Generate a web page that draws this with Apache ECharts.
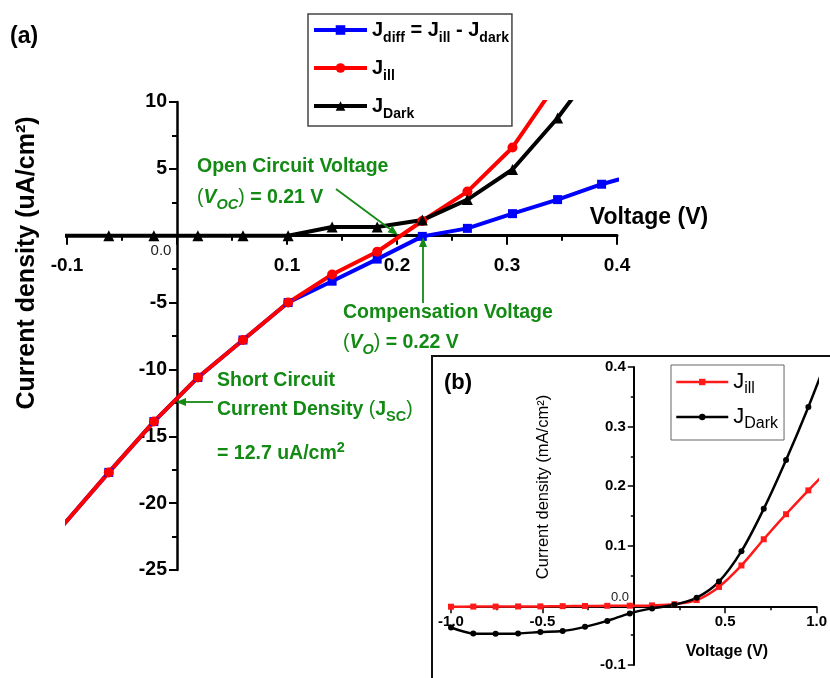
<!DOCTYPE html>
<html>
<head>
<meta charset="utf-8">
<script src="https://cdn.jsdelivr.net/npm/echarts@6/dist/echarts.min.js"></script>
<style>html,body{margin:0;padding:0;background:#fff}#c{width:830px;height:678px}</style>
</head>
<body>
<div id="c"></div>
<script>
// ---- main chart (a) data ----
const vMain  = [-0.103, -0.062, -0.021, 0.019, 0.060, 0.101, 0.141, 0.182, 0.223, 0.264, 0.305, 0.346, 0.386, 0.427];
const jDiff  = [-21.6, -17.7, -13.9, -10.6, -7.8, -5.0, -3.4, -1.75, -0.05, 0.55, 1.65, 2.7, 3.85, 4.8];
const jIll   = [-21.6, -17.7, -13.9, -10.6, -7.8, -5.0, -2.9, -1.2, 1.1, 3.3, 6.6, 11.5, 17.0];
const jDark  = [0, 0, 0, 0, 0, 0, 0.65, 0.65, 1.17, 2.7, 4.95, 8.8, 13.2];
const xTicksMain = [-0.1, 0.0, 0.1, 0.2, 0.3, 0.4];
const yTicksMain = [-25, -20, -15, -10, -5, 0, 5, 10];

// ---- inset chart (b) data ----
const vInset    = [-1.0, -0.878, -0.756, -0.633, -0.511, -0.389, -0.267, -0.145, -0.022, 0.100, 0.222, 0.344, 0.466, 0.589, 0.711, 0.833, 0.955, 1.077];
const jIllB     = [-0.0022, -0.002, -0.002, -0.0018, -0.0017, -0.0013, -0.001, -0.0007, -0.0005, 0.0, 0.002, 0.009, 0.031, 0.067, 0.111, 0.153, 0.193, 0.232];
const jDarkB    = [-0.037, -0.047, -0.0475, -0.047, -0.0447, -0.043, -0.036, -0.026, -0.0134, -0.005, 0.001, 0.013, 0.040, 0.091, 0.162, 0.244, 0.333, 0.43];
const xTicksInset = [-1.0, -0.5, 0.0, 0.5, 1.0];
const yTicksInset = [-0.1, 0.0, 0.1, 0.2, 0.3, 0.4];

const FF = 'Arial, "Liberation Sans", Helvetica, sans-serif';
const GREEN = '#138a13';

function pairs(xs, ys) {
  const out = [];
  for (let i = 0; i < ys.length; i++) out.push([xs[i], ys[i]]);
  return out;
}

const chart = echarts.init(document.getElementById('c'), null, {renderer: 'canvas'});

function arrow(x1, y1, x2, y2) {
  const ang = Math.atan2(y2 - y1, x2 - x1);
  const L = 10, W = 4;
  const bx = x2 - L * Math.cos(ang), by = y2 - L * Math.sin(ang);
  const px = -Math.sin(ang) * W, py = Math.cos(ang) * W;
  return [
    {type: 'line', z: 50, shape: {x1: x1, y1: y1, x2: bx, y2: by}, style: {stroke: GREEN, lineWidth: 1.8}},
    {type: 'polygon', z: 50, shape: {points: [[x2, y2], [bx + px, by + py], [bx - px, by - py]]}, style: {fill: GREEN}}
  ];
}

const GF = 19.5, GS = 14.5;
const greenRich = {
  b: {fontSize: GF, fontWeight: 'bold', fontFamily: FF, fill: GREEN, lineHeight: 28, verticalAlign: 'middle'},
  p: {fontSize: GF, fontWeight: 'normal', fontFamily: FF, fill: GREEN, lineHeight: 28, verticalAlign: 'middle'},
  i: {fontSize: GF, fontWeight: 'bold', fontStyle: 'italic', fontFamily: FF, fill: GREEN, lineHeight: 28, verticalAlign: 'middle'},
  si: {fontSize: GS, fontWeight: 'bold', fontStyle: 'italic', fontFamily: FF, fill: GREEN, lineHeight: 15, verticalAlign: 'bottom'},
  s: {fontSize: GS, fontWeight: 'bold', fontFamily: FF, fill: GREEN, lineHeight: 15, verticalAlign: 'bottom'},
  sup: {fontSize: GS, fontWeight: 'bold', fontFamily: FF, fill: GREEN, lineHeight: 13, verticalAlign: 'top'}
};

function gText(x, y, text) {
  return {
    type: 'text', z: 60, x: x, y: y,
    style: {text: text, rich: greenRich, fill: GREEN, align: 'left', verticalAlign: 'middle', font: 'bold ' + GF + 'px ' + FF}
  };
}

const graphics = [
  {type: 'rect', z: -1, shape: {x: 432, y: 356, width: 400, height: 330}, style: {fill: '#fff', stroke: '#111', lineWidth: 2}},
  {type: 'text', z: 60, x: 10, y: 37, style: {text: '(a)', font: 'bold 23px ' + FF, fill: '#000', verticalAlign: 'middle'}},
  {type: 'text', z: 60, x: 444, y: 383, style: {text: '(b)', font: 'bold 22px ' + FF, fill: '#000', verticalAlign: 'middle'}},
  {type: 'text', z: 60, x: 27, y: 263, rotation: Math.PI / 2,
   style: {text: 'Current density (uA/cm²)', font: 'bold 25px ' + FF, fill: '#000', align: 'center', verticalAlign: 'middle'}},
  {type: 'text', z: 60, x: 649, y: 218,
   style: {text: 'Voltage (V)', font: 'bold 23px ' + FF, fill: '#000', align: 'center', verticalAlign: 'middle'}},
  {type: 'text', z: 60, x: 161, y: 251,
   style: {text: '0.0', font: '15px ' + FF, fill: '#222', align: 'center', verticalAlign: 'middle'}},
  {type: 'text', z: 60, x: 543, y: 487, rotation: Math.PI / 2,
   style: {text: 'Current density (mA/cm²)', font: '16.5px ' + FF, fill: '#000', align: 'center', verticalAlign: 'middle'}},
  {type: 'text', z: 60, x: 727, y: 652,
   style: {text: 'Voltage (V)', font: 'bold 16px ' + FF, fill: '#000', align: 'center', verticalAlign: 'middle'}},
  {type: 'text', z: 60, x: 620, y: 597,
   style: {text: '0.0', font: '13px ' + FF, fill: '#222', align: 'center', verticalAlign: 'middle'}},
  gText(197, 167, '{b|Open Circuit Voltage}'),
  gText(197, 198, '{p|(}{i|V}{si|OC}{p|)}{b| = 0.21 V}'),
  gText(343, 313, '{b|Compensation Voltage}'),
  gText(343, 343, '{p|(}{i|V}{si|O}{p|)}{b| = 0.22 V}'),
  gText(217, 381, '{b|Short Circuit}'),
  gText(217, 410, '{b|Current Density }{p|(}{b|J}{s|SC}{p|)}'),
  gText(217, 454, '{b|= 12.7 uA/cm}{sup|2}')
].concat(arrow(336, 189, 398, 235), arrow(423, 303, 423, 237), arrow(213, 402, 176, 402));

function hideZero(dec) {
  return function (v) { return Math.abs(v) < 1e-9 ? '' : v.toFixed(dec); };
}

function mkAxis(o) {
  return {
    type: 'value', gridIndex: o.grid, min: o.min, max: o.max, interval: o.interval,
    splitLine: {show: false},
    axisLine: {onZero: false, lineStyle: {color: '#000', width: o.lw}},
    axisTick: {length: o.tl, lineStyle: {color: '#000', width: o.tw}},
    minorTick: {show: true, splitNumber: 2, length: o.ml, lineStyle: {color: '#000', width: o.tw}},
    axisLabel: {formatter: hideZero(o.dec), fontSize: o.fs, fontWeight: 'bold', fontFamily: FF, color: '#000', margin: o.margin}
  };
}

const legendRichMain = {
  J: {fontSize: 20, fontWeight: 'bold', fontFamily: FF, color: '#000', lineHeight: 30, verticalAlign: 'middle'},
  s: {fontSize: 14, fontWeight: 'bold', fontFamily: FF, color: '#000', lineHeight: 12, verticalAlign: 'bottom'}
};
const legendRichInset = {
  J: {fontSize: 22, fontWeight: 'normal', fontFamily: FF, color: '#000', lineHeight: 30, verticalAlign: 'middle'},
  s: {fontSize: 16, fontWeight: 'normal', fontFamily: FF, color: '#000', lineHeight: 14, verticalAlign: 'bottom'}
};
const legendNames = {
  'Jdiff': '{J|J}{s|diff}{J| = J}{s|ill}{J| - J}{s|dark}',
  'Jill': '{J|J}{s|ill}',
  'Jdark': '{J|J}{s|Dark}',
  'Jill_b': '{J|J}{s|ill}',
  'Jdark_b': '{J|J}{s|Dark}'
};

const option = {
  animation: false,
  backgroundColor: '#fff',
  grid: [
    {left: 67, right: 213, top: 102, bottom: 108},
    {left: 451, right: 13, top: 367, bottom: 13}
  ],
  xAxis: [
    mkAxis({grid: 0, min: xTicksMain[0], max: xTicksMain[xTicksMain.length - 1], interval: 0.1, lw: 3, tl: 9, ml: 5, tw: 2, dec: 1, fs: 19, margin: 21}),
    mkAxis({grid: 1, min: xTicksInset[0], max: xTicksInset[xTicksInset.length - 1], interval: 0.5, lw: 2, tl: 6, ml: 3, tw: 1.5, dec: 1, fs: 15, margin: 7})
  ],
  yAxis: [
    mkAxis({grid: 0, min: yTicksMain[0], max: yTicksMain[yTicksMain.length - 1], interval: 5, lw: 2.5, tl: 8, ml: 5, tw: 2, dec: 0, fs: 19.5, margin: 10}),
    mkAxis({grid: 1, min: yTicksInset[0], max: yTicksInset[yTicksInset.length - 1], interval: 0.1, lw: 2, tl: 6, ml: 3, tw: 1.5, dec: 1, fs: 15, margin: 8})
  ],
  legend: [
    {
      data: ['Jdiff', 'Jill', 'Jdark'], orient: 'vertical', left: 308, top: 14,
      itemWidth: 53, itemHeight: 12, itemGap: 13, padding: [6, 3, 5, 4],
      borderColor: '#444', borderWidth: 1.5, backgroundColor: '#fff',
      lineStyle: {width: 4},
      formatter: function (n) { return legendNames[n]; },
      textStyle: {rich: legendRichMain}
    },
    {
      data: ['Jill_b', 'Jdark_b'], orient: 'vertical', left: 671, top: 365,
      itemWidth: 52, itemHeight: 8, itemGap: 9, padding: [6, 6, 8, 4],
      borderColor: '#666', borderWidth: 1, backgroundColor: '#fff',
      lineStyle: {width: 2.5},
      formatter: function (n) { return legendNames[n]; },
      textStyle: {rich: legendRichInset}
    }
  ],
  series: [
    {name: 'Jdiff', type: 'line', xAxisIndex: 0, yAxisIndex: 0, data: pairs(vMain, jDiff), clip: true,
     symbol: 'rect', symbolSize: 9, lineStyle: {width: 4, color: '#0000ff'}, itemStyle: {color: '#0000ff'}},
    {name: 'Jill', type: 'line', xAxisIndex: 0, yAxisIndex: 0, data: pairs(vMain, jIll), clip: true,
     symbol: 'circle', symbolSize: 10, lineStyle: {width: 4, color: '#ff0000'}, itemStyle: {color: '#ff0000'}},
    {name: 'Jdark', type: 'line', xAxisIndex: 0, yAxisIndex: 0, data: pairs(vMain, jDark), clip: true,
     symbol: 'triangle', symbolSize: 11, lineStyle: {width: 4, color: '#000'}, itemStyle: {color: '#000'}},
    {name: 'Jill_b', type: 'line', xAxisIndex: 1, yAxisIndex: 1, data: pairs(vInset, jIllB), clip: true, smooth: 0.3,
     symbol: 'rect', symbolSize: 6, lineStyle: {width: 2.5, color: '#ff1a1a'}, itemStyle: {color: '#ff1a1a'}},
    {name: 'Jdark_b', type: 'line', xAxisIndex: 1, yAxisIndex: 1, data: pairs(vInset, jDarkB), clip: true, smooth: 0.3,
     symbol: 'circle', symbolSize: 6, lineStyle: {width: 2.5, color: '#000'}, itemStyle: {color: '#000'}}
  ],
  graphic: graphics
};

chart.setOption(option);

// Place each axis so that it crosses the other at zero (like onZero).
function zeroOffsets(gi, xMin, yMin) {
  const z = chart.convertToPixel({gridIndex: gi}, [0, 0]);
  const bl = chart.convertToPixel({gridIndex: gi}, [xMin, yMin]);
  return {x: -(bl[1] - z[1]), y: -(z[0] - bl[0])};
}
const o0 = zeroOffsets(0, xTicksMain[0], yTicksMain[0]);
const o1 = zeroOffsets(1, xTicksInset[0], yTicksInset[0]);
chart.setOption({
  xAxis: [{offset: o0.x}, {offset: o1.x}],
  yAxis: [{offset: o0.y}, {offset: o1.y}]
});
</script>
</body>
</html>
